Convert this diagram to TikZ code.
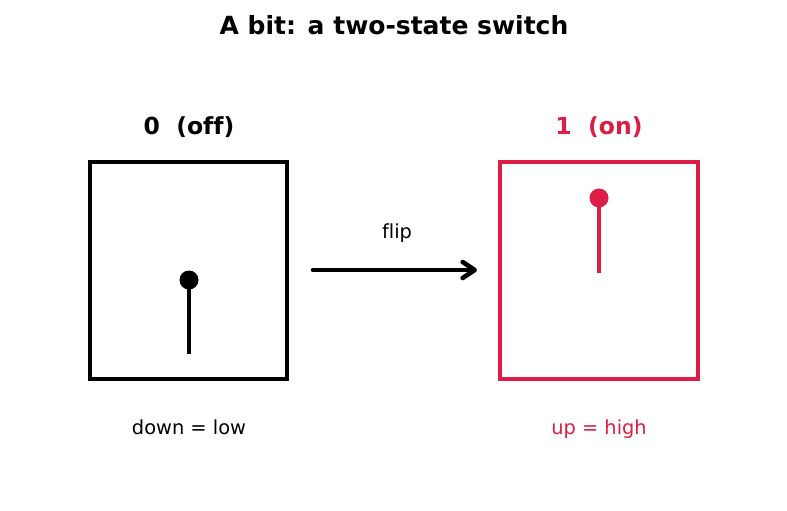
\documentclass[tikz,border=0pt]{standalone}
\usepackage{fontspec}
\setmainfont{DejaVu Sans}[Ligatures=NoCommon]
\usetikzlibrary{arrows.meta}
\definecolor{onred}{RGB}{220,30,70}
\tikzset{
  box/.style={line width=4.8pt, fill=white},
  lever/.style={line width=4.4pt},
  knob/.style={circle, inner sep=0pt, minimum size=19pt},
  lbl/.style={font=\fontsize{19.4}{22}\selectfont, inner sep=0pt},
  head/.style={font=\fontsize{23.5}{26}\bfseries\selectfont, inner sep=0pt},
}
\begin{document}
\begin{tikzpicture}[x=1pt,y=-1pt]
\useasboundingbox (0,0) rectangle (787,511);
\node[font=\fontsize{25}{28}\bfseries\selectfont, inner sep=0pt] (title) at (394,25) {A bit: a two-state switch};
% off switch
\draw[box] (90,162) rectangle (287,379);
\node[head] (offlbl) at (189,127) {0\ \ (off)};
\coordinate (offbase) at (189,354);
\node[knob, fill=black] (offknob) at (189,280) {};
\draw[lever] (offbase) -- (offknob.center);
\node[lbl, anchor=base] (offtxt) at (189,434) {down = low};
% on switch
\draw[box, draw=onred] (500,162) rectangle (698,379);
\node[head, text=onred] (onlbl) at (599,127) {1\ \ (on)};
\coordinate (onbase) at (599,273);
\node[knob, fill=onred] (onknob) at (599,198) {};
\draw[lever, onred] (onbase) -- (onknob.center);
\node[lbl, anchor=base, text=onred] (ontxt) at (599,434) {up = high};
% flip arrow
\coordinate (fa) at (313,270);
\coordinate (fb) at (477,270);
\draw[line width=4.6pt, line cap=round, -{Straight Barb[length=12pt,width=16pt,line width=4.6pt,round]}] (fa) -- (fb);
\node[lbl] (flip) at (397,233) {flip};
\end{tikzpicture}
\end{document}
